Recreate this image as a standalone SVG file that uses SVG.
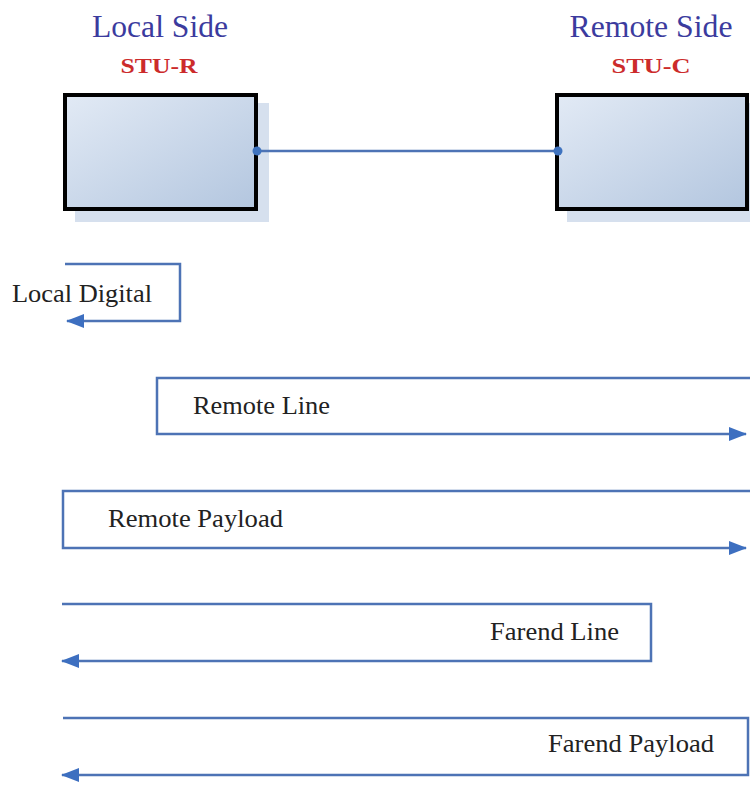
<svg xmlns="http://www.w3.org/2000/svg" width="750" height="787" viewBox="0 0 750 787">
<defs>
<linearGradient id="boxFill" x1="0" y1="0" x2="1" y2="1">
<stop offset="0" stop-color="#e2eaf5"/>
<stop offset="1" stop-color="#b3c6df"/>
</linearGradient>
<marker id="arr" markerWidth="18" markerHeight="14" refX="17" refY="7" orient="auto" markerUnits="userSpaceOnUse">
<path d="M0,0 L18,7 L0,14 Z" fill="#3d6fc0"/>
</marker>
<style>
.title{font-family:"Liberation Serif","Times New Roman",serif;font-size:31px;fill:#3b3b9e;text-anchor:middle}
.sub{font-family:"Liberation Serif","Times New Roman",serif;font-size:21px;font-weight:bold;fill:#cc2b2b;text-anchor:middle}
.lbl{font-family:"Liberation Serif","Times New Roman",serif;font-size:25px;fill:#222}
.box{fill:url(#boxFill);stroke:#000;stroke-width:4}
.shadow{fill:#d6e0ee}
.flow{fill:none;stroke:#4d73b5;stroke-width:2.5}
.dot{fill:#3f73bf}
</style>
</defs>
<g id="local-side">
<text class="title" x="160" y="37" textLength="136" lengthAdjust="spacingAndGlyphs">Local Side</text>
<text class="sub" x="159" y="73" textLength="77" lengthAdjust="spacingAndGlyphs">STU-R</text>
<rect class="shadow" x="75" y="103" width="194" height="119"/>
<rect class="box" x="65" y="95" width="191" height="114"/>
</g>
<g id="remote-side">
<text class="title" x="651" y="37" textLength="163" lengthAdjust="spacingAndGlyphs">Remote Side</text>
<text class="sub" x="651" y="73" textLength="79" lengthAdjust="spacingAndGlyphs">STU-C</text>
<rect class="shadow" x="567" y="103" width="183" height="119"/>
<rect class="box" x="557" y="95" width="190" height="114"/>
</g>
<g id="connectors">
<line class="flow" x1="257" y1="151" x2="558" y2="151"/>
<circle class="dot" cx="257" cy="151" r="4.5"/>
<circle class="dot" cx="558" cy="151" r="4.5"/>
<path class="flow" d="M65,264 H180 V321 H67" marker-end="url(#arr)"/>
<path class="flow" d="M750,378 H157 V434 H746" marker-end="url(#arr)"/>
<path class="flow" d="M750,491 H63 V548 H746" marker-end="url(#arr)"/>
<path class="flow" d="M62,604 H651 V661 H62" marker-end="url(#arr)"/>
<path class="flow" d="M63,718 H748 V775 H62" marker-end="url(#arr)"/>
</g>
<g id="labels">
<text class="lbl" x="12" y="302" textLength="140" lengthAdjust="spacingAndGlyphs">Local Digital</text>
<text class="lbl" x="193" y="414" textLength="137" lengthAdjust="spacingAndGlyphs">Remote Line</text>
<text class="lbl" x="108" y="527" textLength="175" lengthAdjust="spacingAndGlyphs">Remote Payload</text>
<text class="lbl" x="490" y="640" textLength="129" lengthAdjust="spacingAndGlyphs">Farend Line</text>
<text class="lbl" x="548" y="752" textLength="166" lengthAdjust="spacingAndGlyphs">Farend Payload</text>
</g>
</svg>
